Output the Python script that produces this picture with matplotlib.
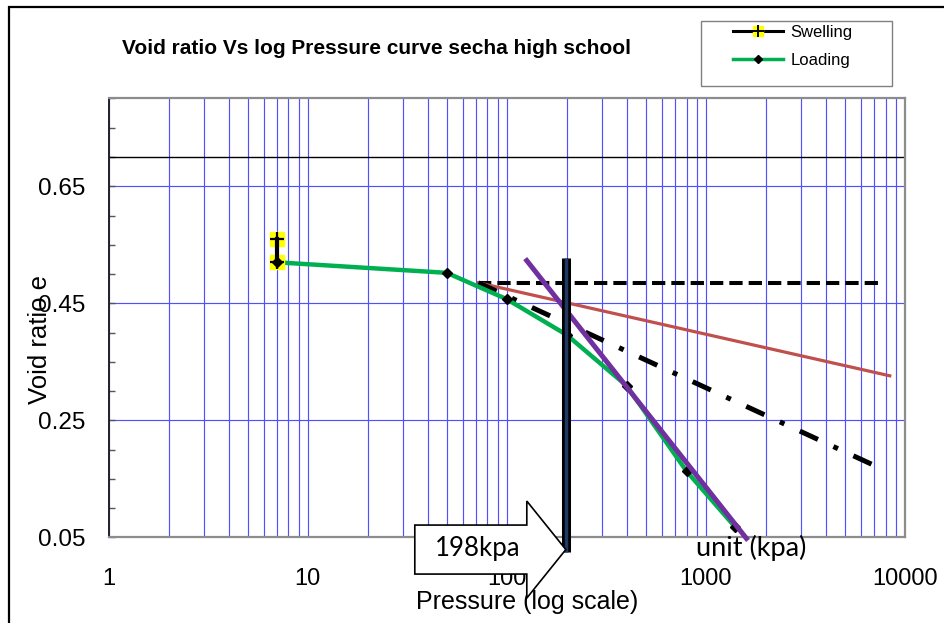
import numpy as np
import matplotlib
matplotlib.use("Agg")
import matplotlib.pyplot as plt
from matplotlib.ticker import FixedLocator, MultipleLocator, FuncFormatter
from matplotlib.patches import Polygon, Rectangle
from matplotlib.lines import Line2D
from matplotlib.legend_handler import HandlerTuple

# oedometer test, secha high school
swell_p = [7, 7]
swell_e = [0.56, 0.52]

load_p = [7, 50, 100, 200, 400, 800, 1400]
load_e = [0.52, 0.502, 0.457, 0.396, 0.309, 0.163, 0.068]

# Casagrande construction
horiz_p = [72, 7500]
horiz_e = [0.485, 0.485]
tangent_p = [72, 8400]
tangent_e = [0.485, 0.326]
bisect_p = [72, 6800]
bisect_e = [0.485, 0.175]
virgin_p = [126, 1600]
virgin_e = [0.523, 0.048]

precon = 198          # kPa
precon_e = [0.527, 0.025]

plt.rcParams['font.family'] = ['Liberation Sans', 'DejaVu Sans']

fig = plt.figure(figsize=(9.45, 6.23), dpi=100)
ax = fig.add_axes([0.115, 0.1376, 0.8425, 0.7043])

ax.set_xscale('log')
ax.set_xlim(1, 10000)
ax.set_ylim(0.05, 0.80)

ax.yaxis.set_major_locator(FixedLocator([0.05, 0.25, 0.45, 0.65]))
ax.yaxis.set_minor_locator(MultipleLocator(0.05))
ax.yaxis.set_minor_formatter(FuncFormatter(lambda v, p: ''))
ax.xaxis.set_major_formatter(FuncFormatter(lambda v, p: '%d' % v))
ax.xaxis.set_minor_formatter(FuncFormatter(lambda v, p: ''))

ax.grid(True, axis='x', which='both', color='#5050ff', lw=0.85)
ax.grid(True, axis='y', which='major', color='#5050ff', lw=0.85)
ax.set_axisbelow(True)
ax.axhline(0.70, color='black', lw=1.0, zorder=1)

ax.tick_params(axis='y', which='both', direction='in', length=4, width=1,
               color='#555555', labelsize=17.5, pad=17)
ax.tick_params(axis='x', which='both', length=0, labelsize=17, pad=22)

for s in ['top', 'right', 'bottom']:
    ax.spines[s].set_color('#8c8c8c')
    ax.spines[s].set_linewidth(1.6)
ax.spines['left'].set_color('#222222')
ax.spines['left'].set_linewidth(1.4)

# construction lines
ax.plot(horiz_p, horiz_e, color='black', lw=2.9, dashes=(3.3, 1.5), zorder=3)
ax.plot(tangent_p, tangent_e, color='#c0504d', lw=2.3, zorder=3)
ax.plot(bisect_p, bisect_e, color='black', lw=3.6, dashes=(4, 3.4, 1, 3.4), zorder=3)

# test curves
ax.plot(load_p, load_e, color='#00b050', lw=3.2, marker='D', ms=5,
        mfc='black', mec='black', zorder=4)
ax.plot(virgin_p, virgin_e, color='#7030a0', lw=3.6, zorder=5, clip_on=False)
ax.plot(swell_p, swell_e, color='black', lw=3.0, ls='none', marker='s', ms=10,
        mfc='#ffff00', mec='#ffff00', zorder=5)
ax.plot(load_p[:1], load_e[:1], ls='none', marker='D', ms=5, mfc='black',
        mec='black', zorder=6)
ax.plot(swell_p, swell_e, color='black', lw=3.0, marker='+', ms=10, mew=1.6,
        zorder=6)

# preconsolidation pressure
ax.plot([precon, precon], precon_e, color='black', lw=6.5, solid_capstyle='butt',
        zorder=7, clip_on=False)
ax.plot([precon, precon], precon_e, color='#1f3864', lw=2.5, solid_capstyle='butt',
        zorder=8, clip_on=False)

ax.text(1700, 0.031, 'unit (kpa)', family=['Lato', 'DejaVu Sans'], fontsize=19.5,
        ha='center', va='center', clip_on=False, zorder=9)

ax.set_xlabel('Pressure (log scale)', fontsize=18)
ax.xaxis.set_label_coords(0.5255, -0.147)
ax.xaxis.label.set_va('center')
ax.set_ylabel('Void ratio e', fontsize=18.5)
ax.yaxis.set_label_coords(-0.0863, 0.45)
ax.yaxis.label.set_va('center')

fig.text(376.5 / 945, 1 - 48.3 / 623, 'Void ratio Vs log Pressure curve secha high school',
         fontsize=15, fontweight='bold', ha='center', va='center')

# block arrow pointing at the preconsolidation line
fig.canvas.draw()
tip = ax.transData.transform((precon, precon_e[1] + 0.004))
shape = np.array([[-151, 24.5], [-39, 24.5], [-39, 48.5], [0, 0],
                  [-39, -48.5], [-39, -24.5], [-151, -24.5]])
verts = fig.transFigure.inverted().transform(tip + shape)
fig.patches.append(Polygon(verts, closed=True, facecolor='white', edgecolor='black',
                           lw=1.2, transform=fig.transFigure, zorder=5))
mid = fig.transFigure.inverted().transform(tip + np.array([-88, 1]))
fig.text(mid[0], mid[1], '198kpa', family=['Lato', 'DejaVu Sans'], fontsize=18.5,
         ha='center', va='center', zorder=6)

# legend: swelling key is a black line with a yellow square and a plus on top
sw_ln = Line2D([], [], color='black', lw=2.2)
sw_sq = Line2D([], [], ls='none', marker='s', ms=7, mfc='#ffff00', mec='#ffff00')
sw_pl = Line2D([], [], ls='none', marker='+', ms=8, mew=1.4, color='black')
ld_ln = Line2D([], [], color='#00b050', lw=2.5, marker='D', ms=4, mfc='black', mec='black')
leg = fig.legend([(sw_ln, sw_sq, sw_pl), ld_ln], ['Swelling', 'Loading'],
                 handler_map={tuple: HandlerTuple(ndivide=1)},
                 loc='upper left', bbox_to_anchor=(733 / 945, 1 - 25 / 623),
                 frameon=False, fontsize=12, handlelength=3.0, handletextpad=0.45,
                 labelspacing=0.75, borderpad=0, borderaxespad=0)
fig.patches.append(Rectangle((700.8 / 945, 1 - 86 / 623), 191 / 945, 65 / 623,
                             transform=fig.transFigure, fill=False,
                             edgecolor='#808080', lw=1.0))

# chart area border
fig.patches.append(Rectangle((9.5 / 945, -0.1), 1.2, 1.1 - 7 / 623,
                             transform=fig.transFigure, fill=False,
                             edgecolor='black', lw=1.6))

fig.savefig('out.png', dpi=100)
